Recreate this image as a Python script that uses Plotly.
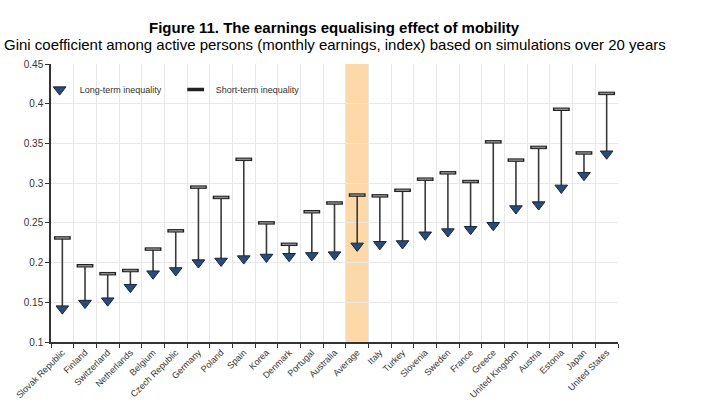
import plotly.graph_objects as go

countries = ["Slovak Republic", "Finland", "Switzerland", "Netherlands", "Belgium",
             "Czech Republic", "Germany", "Poland", "Spain", "Korea", "Denmark",
             "Portugal", "Australia", "Average", "Italy", "Turkey", "Slovenia", "Sweden",
             "France", "Greece", "United Kingdom", "Austria", "Estonia", "Japan",
             "United States"]
short_term = [0.231, 0.196, 0.186, 0.190, 0.217, 0.240, 0.295, 0.282, 0.330, 0.250,
              0.223, 0.264, 0.275, 0.285, 0.284, 0.291, 0.305, 0.313, 0.302, 0.352,
              0.329, 0.345, 0.393, 0.338, 0.413]
long_term = [0.142, 0.149, 0.152, 0.169, 0.186, 0.190, 0.200, 0.202, 0.205, 0.207,
             0.208, 0.209, 0.210, 0.221, 0.223, 0.224, 0.235, 0.239, 0.242, 0.247,
             0.268, 0.273, 0.294, 0.310, 0.337]
highlight = "Average"
y_ticks = [0.1, 0.15, 0.2, 0.25, 0.3, 0.35, 0.4, 0.45]
y_labels = ["0.1", "0.15", "0.2", "0.25", "0.3", "0.35", "0.4", "0.45"]
title = "Figure 11. The earnings equalising effect of mobility"
subtitle = "Gini coefficient among active persons (monthly earnings, index) based on simulations over 20 years"

FONT = "Arial, Liberation Sans, sans-serif"

# connecting lines
lx, ly = [], []
for c, s, l in zip(countries, short_term, long_term):
    lx += [c, c, None]
    ly += [s, l, None]

fig = go.Figure()

hi = countries.index(highlight)
fig.add_shape(type="rect", xref="x", yref="y", x0=hi - 0.5, x1=hi + 0.5,
              y0=y_ticks[0], y1=y_ticks[-1], fillcolor="#fdd9aa",
              line=dict(width=0), layer="below")

fig.add_trace(go.Scatter(x=lx, y=ly, mode="lines", line=dict(color="#3a3a3a", width=1.6),
                         showlegend=False, hoverinfo="skip"))
fig.add_trace(go.Scatter(x=countries, y=long_term, mode="markers", name="Long-term inequality",
                         marker=dict(symbol="triangle-down", size=11, color="#2a4a78",
                                     line=dict(color="#16263f", width=1))))
fig.add_trace(go.Scatter(x=countries, y=short_term, mode="markers", name="Short-term inequality",
                         marker=dict(symbol="line-ew", size=12,
                                     line=dict(color="#222222", width=3.5))))
fig.add_trace(go.Scatter(x=countries, y=short_term, mode="markers", showlegend=False,
                         hoverinfo="skip",
                         marker=dict(symbol="line-ew", size=10,
                                     line=dict(color="#8a8a8a", width=1.5))))

fig.add_annotation(text="<b>" + title + "</b>", xref="paper", yref="paper",
                   x=0.5, y=1 + 36 / 278, xanchor="center", yanchor="middle",
                   showarrow=False, font=dict(family=FONT, size=15, color="black"))
fig.add_annotation(text=subtitle, xref="paper", yref="paper",
                   x=(335 - 51) / 567, y=1 + 20 / 278, xanchor="center", yanchor="middle",
                   showarrow=False, font=dict(family=FONT, size=15, color="black"))

fig.update_layout(
    width=728, height=402,
    margin=dict(l=51, r=110, t=64, b=60),
    paper_bgcolor="white", plot_bgcolor="white",
    font=dict(family=FONT, color="#333333"),
    showlegend=True,
    legend=dict(orientation="h", x=-0.02, xanchor="left", y=0.96, yanchor="top",
                bgcolor="rgba(0,0,0,0)", font=dict(size=9, color="#333333"),
                entrywidth=91, entrywidthmode="pixels", itemwidth=30),
    xaxis=dict(type="category", tickson="boundaries", showgrid=True, gridcolor="#e8e8e8",
               gridwidth=1, showline=True, linecolor="#333333", linewidth=1.5,
               ticks="outside", ticklen=4, tickcolor="#333333", tickangle=-45,
               tickfont=dict(size=9, color="#333333"), range=[-0.5, len(countries) - 0.5],
               automargin=False),
    yaxis=dict(range=[y_ticks[0], y_ticks[-1]], tickvals=y_ticks, ticktext=y_labels,
               showgrid=True, gridcolor="#e8e8e8", gridwidth=1, showline=True,
               linecolor="#333333", linewidth=1.5, ticks="outside", ticklen=4,
               tickcolor="#333333", tickfont=dict(size=10, color="#333333"),
               zeroline=False, automargin=False),
)

fig.write_html("out.html")
